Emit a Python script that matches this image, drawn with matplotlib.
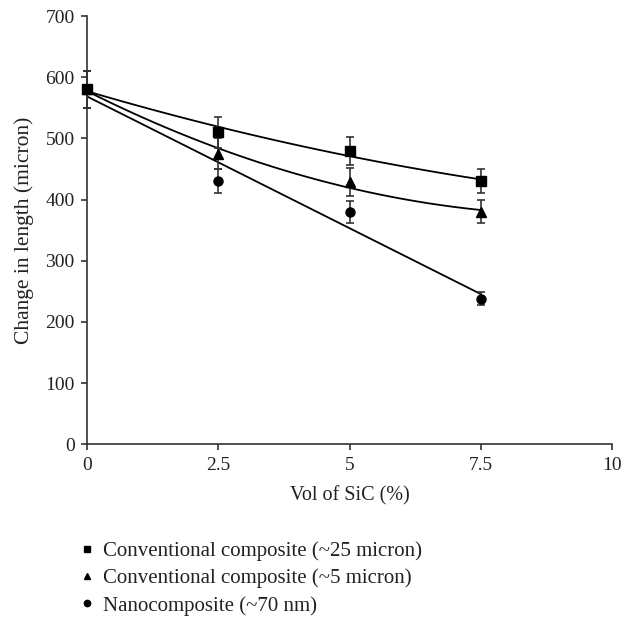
import matplotlib.pyplot as plt
import numpy as np

plt.rcParams['font.family'] = ['Liberation Serif', 'DejaVu Serif']

vol = [0, 2.5, 5, 7.5]

conv25 = [580, 510, 480, 430]
conv25_err = [30, 25, 23, 20]
conv5 = [580, 475, 428, 380]
conv5_err = [30, 25, 23, 19]
nano = [580, 430, 380, 238]
nano_err = [30, 20, 18, 11]

labels = ['Conventional composite (~25 micron)',
          'Conventional composite (~5 micron)',
          'Nanocomposite (~70 nm)']
markers = ['s', '^', 'o']
fit_deg = [2, 2, 1]

fig = plt.figure(figsize=(6.23, 6.17), dpi=100)
ax = fig.add_axes([0.14, 0.28, 0.842, 0.694])

xs = np.linspace(0, 7.5, 100)
for y, err, lab, m, d in zip([conv25, conv5, nano], [conv25_err, conv5_err, nano_err],
                             labels, markers, fit_deg):
    # trend line
    p = np.polyfit(vol, y, d)
    ax.plot(xs, np.polyval(p, xs), color='black', lw=1.3, zorder=2, clip_on=False)
    eb = ax.errorbar(vol, y, yerr=err, fmt=m, color='black', ms=6.5, ecolor='#333333',
                     elinewidth=1.2, capsize=3, capthick=1.2, label=lab, zorder=3)
    for art in eb.get_children():
        art.set_clip_on(False)

ax.set_xlim(0, 10)
ax.set_ylim(0, 700)
ax.set_xticks([0, 2.5, 5, 7.5, 10])
ax.set_xticklabels(['0', '2.5', '5', '7.5', '10'])
ax.set_yticks(range(0, 701, 100))
ax.spines['top'].set_visible(False)
ax.spines['right'].set_visible(False)
for s in ['left', 'bottom']:
    ax.spines[s].set_color('#333333')
    ax.spines[s].set_linewidth(1.2)
ax.tick_params(direction='out', length=4, width=1.2, color='#333333',
               labelsize=14, labelcolor='#222222', pad=5)
ax.set_xlabel('Vol of SiC (%)', fontsize=14.5, color='#222222', labelpad=9)
ax.set_ylabel('Change in length (micron)', fontsize=15.5, color='#222222', labelpad=8)

handles, labs = ax.get_legend_handles_labels()
handles = [h[0] for h in handles]
fig.legend(handles, labs, loc='upper left', bbox_to_anchor=(0.1296, 0.122),
           frameon=False, fontsize=15, handlelength=0.6, handletextpad=0.47,
           labelspacing=0.35, markerscale=0.7, borderaxespad=0, borderpad=0,
           labelcolor='#222222')

fig.savefig('out.png', dpi=100)
